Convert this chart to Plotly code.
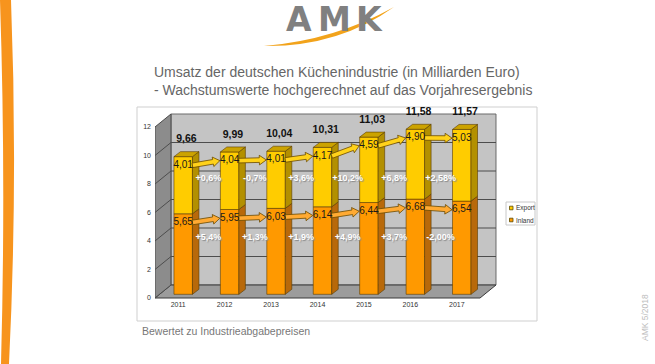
import plotly.graph_objects as go

# ---------------- data ----------------
years = ["2011", "2012", "2013", "2014", "2015", "2016", "2017"]
inland = [5.65, 5.95, 6.03, 6.14, 6.44, 6.68, 6.54]
export = [4.01, 4.04, 4.01, 4.17, 4.59, 4.90, 5.03]
totals = [9.66, 9.99, 10.04, 10.31, 11.03, 11.58, 11.57]
export_growth = ["+0,6%", "-0,7%", "+3,6%", "+10,2%", "+6,8%", "+2,58%"]
inland_growth = ["+5,4%", "+1,3%", "+1,9%", "+4,9%", "+3,7%", "-2,00%"]
y_ticks = [0, 2, 4, 6, 8, 10, 12]
series_names = ["Export", "Inland"]

# ---------------- geometry (pixels -> axis units) ----------------
W, H = 655, 364
L, R, T, B = 155, 500, 108, 299          # plot area box in pixels
PXX, X0 = 46.43, 178.2                    # px per category, pixel of category 0
PXY, Y0 = 14.25, 298.0                    # px per unit, pixel of value 0
xr = [(L - X0) / PXX, (R - X0) / PXX]
yr = [(Y0 - B) / PXY, (Y0 - T) / PXY]

DXW, DYW = 16 / PXX, 13 / PXY             # wall depth
BDX, BDY = 5 / PXX, 3.7 / PXY             # bar front offset
BW = 18.5 / PXX                           # bar width
DDX, DDY = 6.5 / PXX, 5 / PXY             # bar depth

C_IN, C_IN_S = "#FF9900", "#B8690A"
C_EX, C_EX_S, C_EX_T = "#FFCC00", "#B39000", "#CCA300"
EDGE = "#5a3c00"


def px(x):
    return (x - L) / (R - L)


def py(y):
    return (B - y) / (B - T)


def P(x, y):
    return f"{px(x):.5f},{py(y):.5f}"


def fmt(v):
    return f"{v:.2f}".replace(".", ",")


n = len(years)
idx = list(range(n))
xmin, xmax = -0.5, n - 0.5
ymax = max(y_ticks)

shapes = []
# chart frame
shapes.append(dict(type="rect", xref="paper", yref="paper", x0=px(137), x1=px(537),
                   y0=py(321), y1=py(107), line=dict(color="#cfcfcf", width=1),
                   fillcolor="white", layer="below"))
# orange stripe on the left
shapes.append(dict(type="path", xref="paper", yref="paper",
                   path=f"M {P(0,0)} L {P(11,0)} Q {P(18,180)} {P(9,364)} L {P(1,364)} Q {P(6,180)} {P(0,0)} Z",
                   fillcolor="#F7941D", line=dict(width=0), layer="below"))
# logo swoosh
shapes.append(dict(type="path", xref="paper", yref="paper",
                   path=f"M {P(264,46)} Q {P(335,40)} {P(394,7)} Q {P(338,47)} {P(264,46)} Z",
                   fillcolor="#F2A31B", line=dict(width=0), layer="above"))

# back wall, floor, left wall
def dpath(pts):
    return "M " + " L ".join(f"{x:.4f},{y:.4f}" for x, y in pts) + " Z"

shapes.append(dict(type="path", xref="x", yref="y", layer="below",
                   path=dpath([(xmin + DXW, DYW), (xmax + DXW, DYW), (xmax + DXW, ymax + DYW), (xmin + DXW, ymax + DYW)]),
                   fillcolor="#c4c4c4", line=dict(color="#6a6a6a", width=1)))
shapes.append(dict(type="path", xref="x", yref="y", layer="below",
                   path=dpath([(xmin, 0), (xmax, 0), (xmax + DXW, DYW), (xmin + DXW, DYW)]),
                   fillcolor="#9c9c9c", line=dict(color="#3a3a3a", width=1)))
shapes.append(dict(type="path", xref="x", yref="y", layer="below",
                   path=dpath([(xmin, 0), (xmin + DXW, DYW), (xmin + DXW, ymax + DYW), (xmin, ymax)]),
                   fillcolor="#8c8c8c", line=dict(color="#4a4a4a", width=1)))
for v in y_ticks[1:-1]:
    shapes.append(dict(type="line", xref="x", yref="y", layer="below",
                       x0=xmin + DXW, x1=xmax + DXW, y0=v + DYW, y1=v + DYW,
                       line=dict(color="#4d4d4d", width=1)))
    shapes.append(dict(type="line", xref="x", yref="y", layer="below",
                       x0=xmin, x1=xmin + DXW, y0=v, y1=v + DYW,
                       line=dict(color="#4d4d4d", width=1)))

fig = go.Figure()

# side and top faces
def side_faces(bottoms, tops):
    xs, ys = [], []
    for i in idx:
        xr_ = i + BDX + BW / 2
        b, t = bottoms[i] + BDY, tops[i] + BDY
        xs += [xr_, xr_ + DDX, xr_ + DDX, xr_, xr_, None]
        ys += [b, b + DDY, t + DDY, t, b, None]
    return xs, ys

zeros = [0] * n
sx, sy = side_faces(zeros, inland)
fig.add_trace(go.Scatter(x=sx, y=sy, mode="lines", fill="toself", fillcolor=C_IN_S,
                         line=dict(color=EDGE, width=0.6), hoverinfo="skip", showlegend=False))
sx, sy = side_faces(inland, totals)
fig.add_trace(go.Scatter(x=sx, y=sy, mode="lines", fill="toself", fillcolor=C_EX_S,
                         line=dict(color=EDGE, width=0.6), hoverinfo="skip", showlegend=False))
tx, ty = [], []
for i in idx:
    xl_, xr_ = i + BDX - BW / 2, i + BDX + BW / 2
    t = totals[i] + BDY
    tx += [xl_, xl_ + DDX, xr_ + DDX, xr_, xl_, None]
    ty += [t, t + DDY, t + DDY, t, t, None]
fig.add_trace(go.Scatter(x=tx, y=ty, mode="lines", fill="toself", fillcolor=C_EX_T,
                         line=dict(color=EDGE, width=0.6), hoverinfo="skip", showlegend=False))

# front faces
fig.add_trace(go.Bar(x=[i + BDX for i in idx], y=inland, base=BDY, width=BW, name=series_names[1],
                     marker=dict(color=C_IN, line=dict(color=EDGE, width=0.6)), showlegend=False))
fig.add_trace(go.Bar(x=[i + BDX for i in idx], y=export, base=[v + BDY for v in inland], width=BW,
                     name=series_names[0],
                     marker=dict(color=C_EX, line=dict(color=EDGE, width=0.6)), showlegend=False))

# arrows between value labels
LAB_OFF = 0.35

def arrows(levels, color):
    xs, ys = [], []
    for i in idx[:-1]:
        x1, y1 = (i + BDX + BW / 2) * PXX, (levels[i] - LAB_OFF) * PXY
        x2, y2 = (i + 1 + BDX - BW / 2 - 0.01) * PXX, (levels[i + 1] - LAB_OFF) * PXY
        dx, dy = x2 - x1, y2 - y1
        ln = (dx * dx + dy * dy) ** 0.5
        ux, uy = dx / ln, dy / ln
        nx, ny = -uy, ux
        h, hh, hl = 2.3, 4.8, 7.0
        bx, by = x2 - ux * hl, y2 - uy * hl
        pts = [(x1 + nx * h, y1 + ny * h), (bx + nx * h, by + ny * h), (bx + nx * hh, by + ny * hh),
               (x2, y2), (bx - nx * hh, by - ny * hh), (bx - nx * h, by - ny * h),
               (x1 - nx * h, y1 - ny * h), (x1 + nx * h, y1 + ny * h)]
        xs += [p[0] / PXX for p in pts] + [None]
        ys += [p[1] / PXY for p in pts] + [None]
    fig.add_trace(go.Scatter(x=xs, y=ys, mode="lines", fill="toself", fillcolor=color,
                             line=dict(color="#6b4a00", width=0.8), hoverinfo="skip", showlegend=False))

arrows(totals, "#FFD21A")
arrows(inland, "#FFAA33")

# value labels
fig.add_trace(go.Scatter(x=[i + BDX for i in idx], y=[v - LAB_OFF for v in inland], mode="text",
                         text=[fmt(v) for v in inland], textfont=dict(family="Liberation Sans", size=10, color="#1a1a1a"),
                         cliponaxis=False, hoverinfo="skip", showlegend=False))
fig.add_trace(go.Scatter(x=[i + BDX for i in idx], y=[v - LAB_OFF for v in totals], mode="text",
                         text=[fmt(v) for v in export], textfont=dict(family="Liberation Sans", size=10, color="#1a1a1a"),
                         cliponaxis=False, hoverinfo="skip", showlegend=False))
fig.add_trace(go.Scatter(x=[i + BDX + DDX / 2 for i in idx], y=[v + 1.45 for v in totals], mode="text",
                         text=[fmt(v) for v in totals],
                         textfont=dict(family="Liberation Sans", size=10.5, color="#111111", weight="bold"),
                         cliponaxis=False, hoverinfo="skip", showlegend=False))
# growth labels
PCT_Y_EX, PCT_Y_IN = 8.4, 4.2
fig.add_trace(go.Scatter(x=[i + 0.5 + 0.15 for i in idx[:-1]], y=[PCT_Y_EX] * (n - 1), mode="text",
                         text=export_growth,
                         textfont=dict(family="Liberation Sans", size=9, color="white", weight="bold",
                                       shadow="1px 1px 1px #8a8a8a"),
                         cliponaxis=False, hoverinfo="skip", showlegend=False))
fig.add_trace(go.Scatter(x=[i + 0.5 + 0.15 for i in idx[:-1]], y=[PCT_Y_IN] * (n - 1), mode="text",
                         text=inland_growth,
                         textfont=dict(family="Liberation Sans", size=9, color="white", weight="bold",
                                       shadow="1px 1px 1px #8a8a8a"),
                         cliponaxis=False, hoverinfo="skip", showlegend=False))

# legend (drawn)
shapes.append(dict(type="rect", xref="paper", yref="paper", x0=px(506), x1=px(535), y0=py(225), y1=py(202),
                   line=dict(color="#c8c8c8", width=1), fillcolor="white"))
annotations = []
for k, (name, col) in enumerate(zip(series_names, [C_EX, C_IN])):
    yc = 208 + 12 * k
    shapes.append(dict(type="rect", xref="paper", yref="paper", x0=px(509.5), x1=px(513),
                       y0=py(yc + 1.8), y1=py(yc - 1.8), line=dict(color="#5a4a00", width=0.8), fillcolor=col))
    annotations.append(dict(xref="paper", yref="paper", x=px(513.5), y=py(yc), text=name, showarrow=False,
                            xanchor="left", yanchor="middle",
                            font=dict(family="Liberation Sans", size=6.5, color="#333333")))

# titles and texts
grey = "#666666"
annotations.append(dict(xref="paper", yref="paper", x=px(152), y=py(72), xanchor="left", yanchor="middle",
                        text="Umsatz der deutschen Küchenindustrie (in Milliarden Euro)", showarrow=False,
                        font=dict(family="Liberation Sans", size=14, color=grey)))
annotations.append(dict(xref="paper", yref="paper", x=px(152), y=py(90), xanchor="left", yanchor="middle",
                        text="- Wachstumswerte hochgerechnet auf das Vorjahresergebnis", showarrow=False,
                        font=dict(family="Liberation Sans", size=14, color=grey)))
annotations.append(dict(xref="paper", yref="paper", x=px(140), y=py(331), xanchor="left", yanchor="middle",
                        text="Bewertet zu Industrieabgabepreisen", showarrow=False,
                        font=dict(family="Liberation Sans", size=10.5, color="#777777")))
annotations.append(dict(xref="paper", yref="paper", x=px(645), y=py(318), xanchor="center", yanchor="middle",
                        text="AMK 5/2018", showarrow=False, textangle=-90,
                        font=dict(family="Liberation Sans", size=8.5, color="#bdbdbd")))
# logo letters
for ch, cx in zip("AMK", [299, 334, 369]):
    annotations.append(dict(xref="paper", yref="paper", x=px(cx), y=py(19), xanchor="center", yanchor="middle",
                            text=f"<b>{ch}</b>", showarrow=False,
                            font=dict(family="DejaVu Sans", size=33, color="#808080")))

fig.update_layout(
    width=W, height=H, margin=dict(l=L, r=W - R, t=T, b=H - B, pad=0),
    paper_bgcolor="white", plot_bgcolor="rgba(0,0,0,0)",
    barmode="overlay", showlegend=False,
    shapes=shapes, annotations=annotations,
    xaxis=dict(range=xr, tickvals=idx, ticktext=years, showgrid=False, zeroline=False, showline=False,
               ticks="", tickfont=dict(family="Liberation Sans", size=7, color="#333333"), fixedrange=True),
    yaxis=dict(range=yr, tickvals=y_ticks, ticktext=[str(v) for v in y_ticks], showgrid=False, zeroline=False,
               showline=False, ticks="", ticklabelstandoff=3,
               tickfont=dict(family="Liberation Sans", size=7, color="#333333"), fixedrange=True),
)

fig.write_html("out.html", config={"displayModeBar": False},
               post_script="document.body.style.margin='0';")
